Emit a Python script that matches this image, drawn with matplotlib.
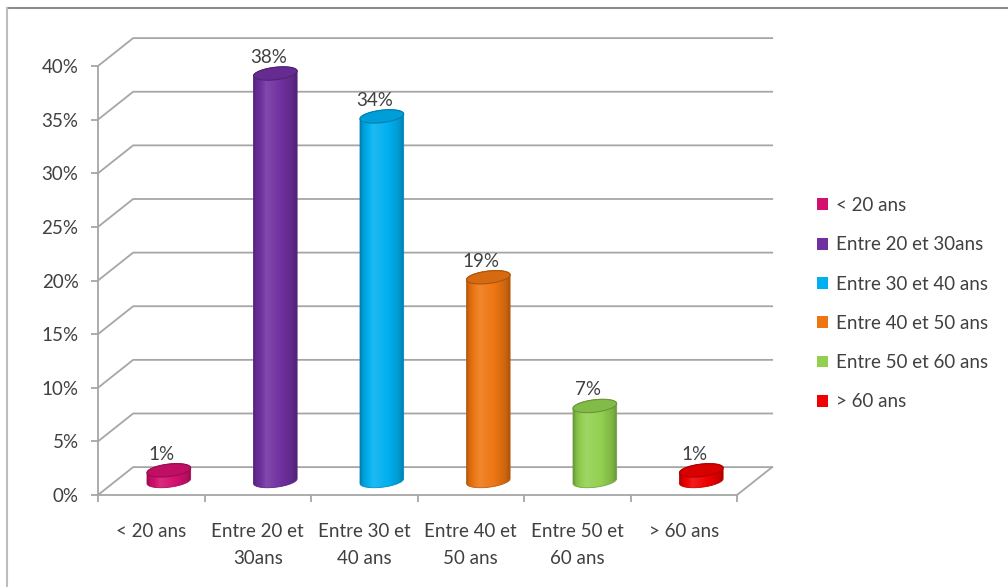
import numpy as np
import matplotlib
matplotlib.use("Agg")
from matplotlib import pyplot as plt
from matplotlib.patches import Polygon, Patch
from matplotlib.lines import Line2D
from matplotlib.colors import to_rgb

categories = ["< 20 ans", "Entre 20 et\n30ans", "Entre 30 et\n40 ans",
              "Entre 40 et\n50 ans", "Entre 50 et\n60 ans", "> 60 ans"]
legend_labels = ["< 20 ans", "Entre 20 et 30ans", "Entre 30 et 40 ans",
                 "Entre 40 et 50 ans", "Entre 50 et 60 ans", "> 60 ans"]
values = [1, 38, 34, 19, 7, 1]
colors = ["#D4106F", "#7030A0", "#00B0F0", "#EE7612", "#92D050", "#F00000"]
yticks = [0, 5, 10, 15, 20, 25, 30, 35, 40]

plt.rcParams['font.family'] = ['Lato', 'DejaVu Sans']
TXT = "#404040"
GRID = "#A6A6A6"
FS = 13.5

W, H = 1008, 587
fig = plt.figure(figsize=(W / 100, H / 100), dpi=100)
ax = fig.add_axes([98 / W, 1 - 495 / H, 639 / W, 429 / H])
ax.set_xlim(0, 6)
ax.set_ylim(0, 40)

# depth of floor / back wall, in data units
DX = 0.33
DY = 2.6
# cylinder radius (categories), ellipse half height (%), tilt of the caps
RA = 0.205
RB = 0.58
TILT = 1.1

for sp in ["top", "right"]:
    ax.spines[sp].set_visible(False)
for sp in ["left", "bottom"]:
    ax.spines[sp].set_color(GRID)
    ax.spines[sp].set_linewidth(1.3)

# back wall gridlines with the slanted side wall
for t in yticks:
    ax.plot([0, DX, 6 + DX], [t, t + DY, t + DY], color=GRID, lw=1.3,
            clip_on=False, zorder=1)
ax.plot([6, 6 + DX], [0, DY], color=GRID, lw=1.3, clip_on=False, zorder=1)

ax.set_yticks(yticks, labels=[f"{t}%" for t in yticks])
ax.set_xticks(range(7), labels=[""] * 7)
ax.set_xticks(np.arange(6) + 0.5, labels=categories, minor=True)
ax.tick_params(axis="y", length=5, color=GRID, width=1.3, pad=9,
               labelsize=FS, labelcolor=TXT)
ax.tick_params(axis="x", which="major", length=5, color=GRID, width=1.3)
ax.tick_params(axis="x", which="minor", length=0, pad=20,
               labelsize=FS, labelcolor=TXT)
for lab in ax.get_xticklabels(minor=True):
    lab.set_linespacing(1.7)


def shade(rgb, f):
    rgb = np.asarray(rgb)
    if f >= 1:
        return rgb + (1 - rgb) * (f - 1)
    return rgb * f


u = np.linspace(0, 1, 64)
prof = np.interp(u, [0, 0.06, 0.3, 0.65, 0.9, 1],
                 [0.70, 0.88, 1.12, 1.0, 0.86, 0.72])
th = np.linspace(0, 2 * np.pi, 120)

for i, (v, c) in enumerate(zip(values, colors)):
    rgb = to_rgb(c)
    cx = i + 0.5 + DX / 2
    y0 = DY / 2
    y1 = y0 + v

    def ell(yc, t):
        return (cx + RA * np.cos(t),
                yc + RB * np.sin(t) + TILT * RA * np.cos(t))

    tb = np.linspace(np.pi, 2 * np.pi, 60)
    tt = np.linspace(0, np.pi, 60)
    bx, by = ell(y0, tb)
    tx, ty = ell(y1, tt)
    body = np.column_stack([np.r_[bx, tx], np.r_[by, ty]])
    poly = Polygon(body, closed=True, facecolor="none", edgecolor="none",
                   transform=ax.transData)
    ax.add_patch(poly)

    img = np.array([[np.clip(shade(rgb, f), 0, 1) for f in prof]])
    im = ax.imshow(img, extent=(cx - RA, cx + RA, y0 - RB - TILT * RA - 0.5,
                                y1 + RB + TILT * RA + 0.5),
                   aspect="auto", interpolation="bilinear", zorder=3)
    im.set_clip_path(poly)
    ax.add_patch(Polygon(body, closed=True, facecolor="none",
                         edgecolor=shade(rgb, 0.8), lw=0.6, zorder=4))

    ex, ey = ell(y1, th)
    ax.add_patch(Polygon(np.column_stack([ex, ey]), closed=True,
                         facecolor=shade(rgb, 0.9), edgecolor=shade(rgb, 0.72),
                         lw=0.8, zorder=5))

    ax.annotate(f"{v}%", (cx, y1 + RB), xytext=(-5, 1),
                textcoords="offset points", ha="center", va="bottom",
                fontsize=FS, color=TXT, zorder=6)

ax.set_xlim(0, 6)
ax.set_ylim(0, 40)

handles = [Patch(facecolor=c, edgecolor="none") for c in colors]
fig.legend(handles, legend_labels, loc="upper left",
           bbox_to_anchor=(800 / W, 1 - 180 / H), frameon=False,
           fontsize=FS, labelcolor=TXT, handlelength=0.6, handleheight=0.6,
           handletextpad=0.4, labelspacing=1.19)

# outer chart border (top and left edges)
fig.add_artist(Line2D([7 / W, 1], [1 - 8 / H, 1 - 8 / H], color="#8C8C8C",
                      lw=1.5, transform=fig.transFigure))
fig.add_artist(Line2D([7 / W, 7 / W], [0, 1 - 8 / H], color="#BDBDBD",
                      lw=1.5, transform=fig.transFigure))

fig.savefig("out.png", dpi=100)
